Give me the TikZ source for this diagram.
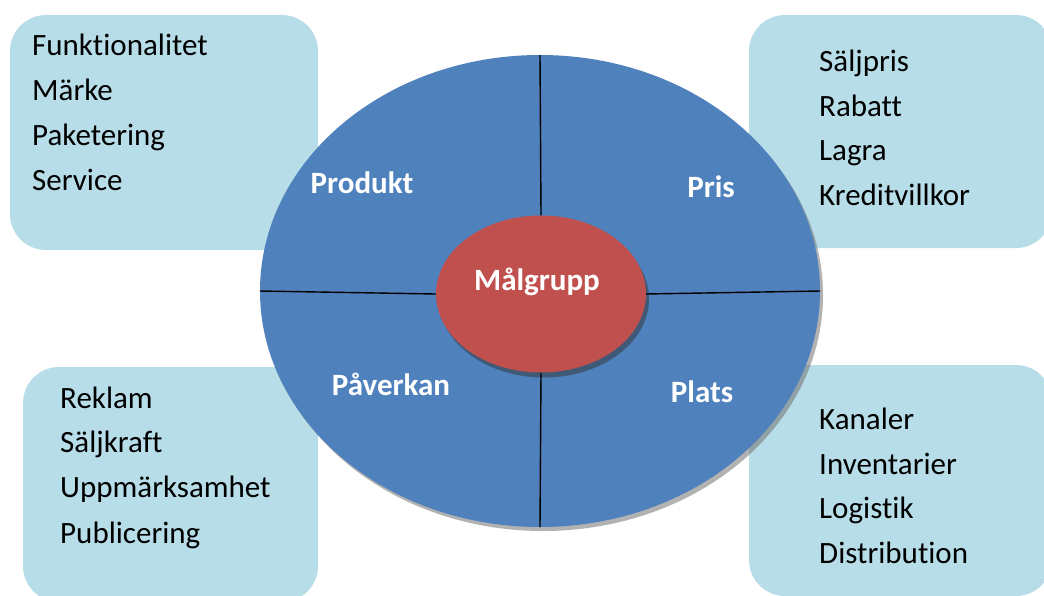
\documentclass[tikz,border=0pt]{standalone}
\usepackage{fontspec}
\setmainfont{Carlito}[Ligatures={NoCommon}]
\usetikzlibrary{shapes.geometric,shadows}
\definecolor{cardblue}{HTML}{B7DDE8}
\definecolor{wheelblue}{HTML}{4F81BD}
\definecolor{hubred}{HTML}{C0504D}
\tikzset{
  card/.style={fill=cardblue, draw=none, rounded corners=36pt},
  item/.style={anchor=base west, inner sep=0pt, text=black,
               font=\fontsize{31}{37}\selectfont},
  quarter/.style={anchor=base, inner sep=0pt, text=white,
                  font=\fontsize{31}{37}\selectfont\bfseries},
  divider/.style={draw=black, line width=1.4pt},
}
\begin{document}
\begin{tikzpicture}[x=1pt, y=-1pt]
  \useasboundingbox (0,0) rectangle (1044,595);
  \clip (0,0) rectangle (1044,595);

  % four rounded cards behind the wheel
  \fill[card] (10,15) rectangle (318,250);
  \fill[card] (749,15) rectangle (1052,248);
  \fill[card] (23,367) rectangle (318,602);
  \fill[card] (749,365) rectangle (1052,596);

  % the wheel and its hub
  \node[ellipse, fill=wheelblue, inner sep=0pt,
        minimum width=560pt, minimum height=472pt,
        drop shadow={shadow xshift=3pt, shadow yshift=-4pt,
                     fill=black!55, opacity=0.55}]
        (wheel) at (540,291) {};
  \node[ellipse, fill=hubred, inner sep=0pt,
        minimum width=210pt, minimum height=157pt,
        drop shadow={shadow xshift=3pt, shadow yshift=-5pt,
                     fill=black!80, opacity=0.5}]
        (hub) at (541,294) {};

  % quarter dividers
  \draw[divider] (wheel.north) -- (hub.north);
  \draw[divider] (hub.south) -- (wheel.south);
  \draw[divider] (wheel.west) -- (hub.west);
  \draw[divider] (hub.east) -- (wheel.east);

  % quarter titles
  \node[quarter] (produkt) at (362,193) {Produkt};
  \node[quarter] (pris) at (711,197) {Pris};
  \node[quarter] (paverkan) at (391,395) {Påverkan};
  \node[quarter] (plats) at (702,402) {Plats};
  \node[quarter] (malgrupp) at (537,290) {Målgrupp};

  % product card
  \node[item] (p1) at (32,55) {Funktionalitet};
  \node[item] (p2) at (32,100) {Märke};
  \node[item] (p3) at (32,145) {Paketering};
  \node[item] (p4) at (32,190) {Service};

  % price card
  \node[item] (r1) at (819,71) {Säljpris};
  \node[item] (r2) at (819,116) {Rabatt};
  \node[item] (r3) at (819,160) {Lagra};
  \node[item] (r4) at (819,205) {Kreditvillkor};

  % promotion card
  \node[item] (v1) at (60,408) {Reklam};
  \node[item] (v2) at (60,452) {Säljkraft};
  \node[item] (v3) at (60,497) {Uppmärksamhet};
  \node[item] (v4) at (60,543) {Publicering};

  % place card
  \node[item] (l1) at (819,429) {Kanaler};
  \node[item] (l2) at (819,474) {Inventarier};
  \node[item] (l3) at (819,518) {Logistik};
  \node[item] (l4) at (819,563) {Distribution};
\end{tikzpicture}
\end{document}
